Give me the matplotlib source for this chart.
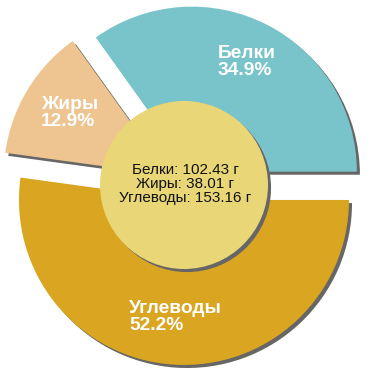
import matplotlib.pyplot as plt
import matplotlib.patches as mpatches
import matplotlib.patheffects as pe

# Macronutrient data
names = ["Белки", "Жиры", "Углеводы"]
grams = [102.43, 38.01, 153.16]
percents = [34.9, 12.9, 52.2]
colors = ["#79c3cb", "#eec591", "#daa520"]

plt.rcParams['font.family'] = ['Liberation Sans', 'DejaVu Sans']

fig = plt.figure(figsize=(3.7, 3.7), dpi=100)
ax = fig.add_axes([0, 0, 1, 1])

shadow = [pe.SimplePatchShadow(offset=(2.2, -2.2), shadow_rgbFace='#666666', alpha=1.0), pe.Normal()]

# Pie wedges (pixel-like data units, y up)
wedges, _ = ax.pie(grams, colors=colors, startangle=0, counterclock=True,
                   center=(185, 185), radius=165, explode=[15, 19, 15],
                   frame=True)
for w in wedges:
    w.set_path_effects(shadow)
ax.set_xlim(0, 370)
ax.set_ylim(0, 370)
ax.set_aspect('equal')
ax.axis("off")

# Inner circle
circ = mpatches.Circle((184, 185), 84, facecolor="#e8d677", edgecolor="none", zorder=3)
circ.set_path_effects(shadow)
ax.add_patch(circ)

# Outer labels
label_pos = [(218, 370 - 62), (41, 370 - 113), (129, 370 - 317)]
for (x, y), n, p in zip(label_pos, names, percents):
    ax.text(x, y, f"{n}\n{p}%", color="white", fontsize=13.8, fontweight="bold",
            ha="left", va="center", linespacing=0.96, zorder=4)

# Centre summary
summary = "\n".join(f"{n}: {g:.2f} г" for n, g in zip(names, grams))
ax.text(185, 370 - 184, summary, color="#111111", fontsize=11, ha="center",
        va="center", linespacing=0.98, zorder=4)

fig.savefig("out.png", dpi=100)
